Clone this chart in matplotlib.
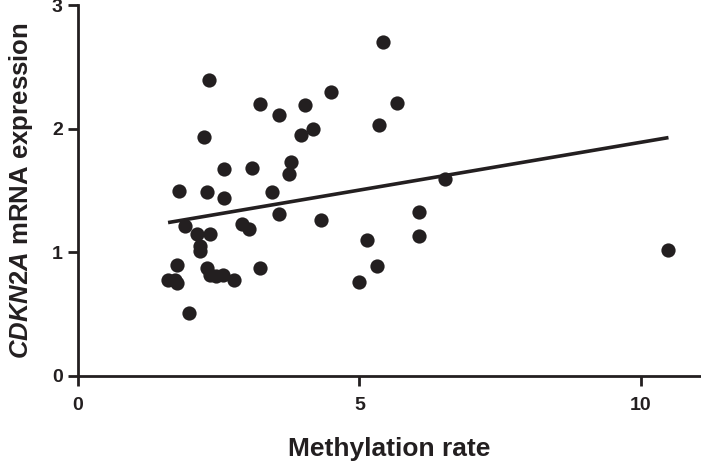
import matplotlib
matplotlib.use("Agg")
import matplotlib.pyplot as plt
import numpy as np

# --- DATA ---
methylation = [5.42, 2.32, 3.23, 3.57, 4.03, 4.50, 5.66, 5.34, 2.24, 3.97,
               4.17, 2.59, 3.10, 3.78, 3.75, 1.80, 2.30, 2.59, 3.44, 3.57,
               4.31, 1.90, 2.11, 2.34, 2.92, 3.04, 2.17, 2.17, 5.13, 5.32,
               4.99, 1.75, 2.29, 3.24, 1.60, 1.76, 1.72, 2.34, 2.46, 2.58,
               2.77, 1.98, 6.52, 6.05, 6.05, 10.49]
expression = [2.70, 2.39, 2.20, 2.11, 2.19, 2.30, 2.21, 2.03, 1.93, 1.95,
              2.00, 1.67, 1.68, 1.73, 1.63, 1.50, 1.49, 1.44, 1.49, 1.31,
              1.26, 1.21, 1.15, 1.15, 1.23, 1.19, 1.05, 1.01, 1.10, 0.89,
              0.76, 0.90, 0.87, 0.87, 0.78, 0.75, 0.78, 0.82, 0.81, 0.82,
              0.78, 0.51, 1.59, 1.33, 1.13, 1.02]
# regression line as drawn in the figure
fit_intercept = 1.117
fit_slope = 0.0773

x_ticks = [0, 5, 10]
y_ticks = [0, 1, 2, 3]

plt.rcParams['font.family'] = ['Liberation Sans', 'DejaVu Sans']
plt.rcParams['mathtext.fontset'] = 'custom'
plt.rcParams['mathtext.it'] = 'Liberation Sans:italic:bold'
plt.rcParams['mathtext.rm'] = 'Liberation Sans:bold'

ink = '#231f20'

fig = plt.figure(figsize=(7.01, 4.68), dpi=100)
ax = fig.add_axes([78 / 701, 92 / 468, 622 / 701, 371 / 468])

ax.scatter(methylation, expression, s=105, color=ink, zorder=3, linewidths=0)

line_x = np.array([min(methylation), max(methylation)])
ax.plot(line_x, fit_intercept + fit_slope * line_x, color=ink, lw=2.6,
        solid_capstyle='butt', zorder=2)

ax.set_xlim(0, 11.05)
ax.set_ylim(0, 3)
ax.set_xticks(x_ticks)
ax.set_yticks(y_ticks)
for side in ['top', 'right']:
    ax.spines[side].set_visible(False)
for side in ['left', 'bottom']:
    ax.spines[side].set_linewidth(2.0)
    ax.spines[side].set_color(ink)
ax.tick_params(axis='both', length=7, width=2.0, color=ink,
               labelsize=14, labelcolor=ink)
ax.tick_params(axis='x', pad=8)
ax.tick_params(axis='y', pad=4)
for lab in ax.get_xticklabels() + ax.get_yticklabels():
    lab.set_fontweight('bold')

ax.set_xlabel('Methylation rate', fontsize=19, fontweight='bold',
              color=ink, labelpad=17)
ax.set_ylabel(r'$\it{CDKN2A}$ mRNA expression', fontsize=18.5,
              fontweight='bold', color=ink, labelpad=12)

fig.savefig('out.png', dpi=100)
